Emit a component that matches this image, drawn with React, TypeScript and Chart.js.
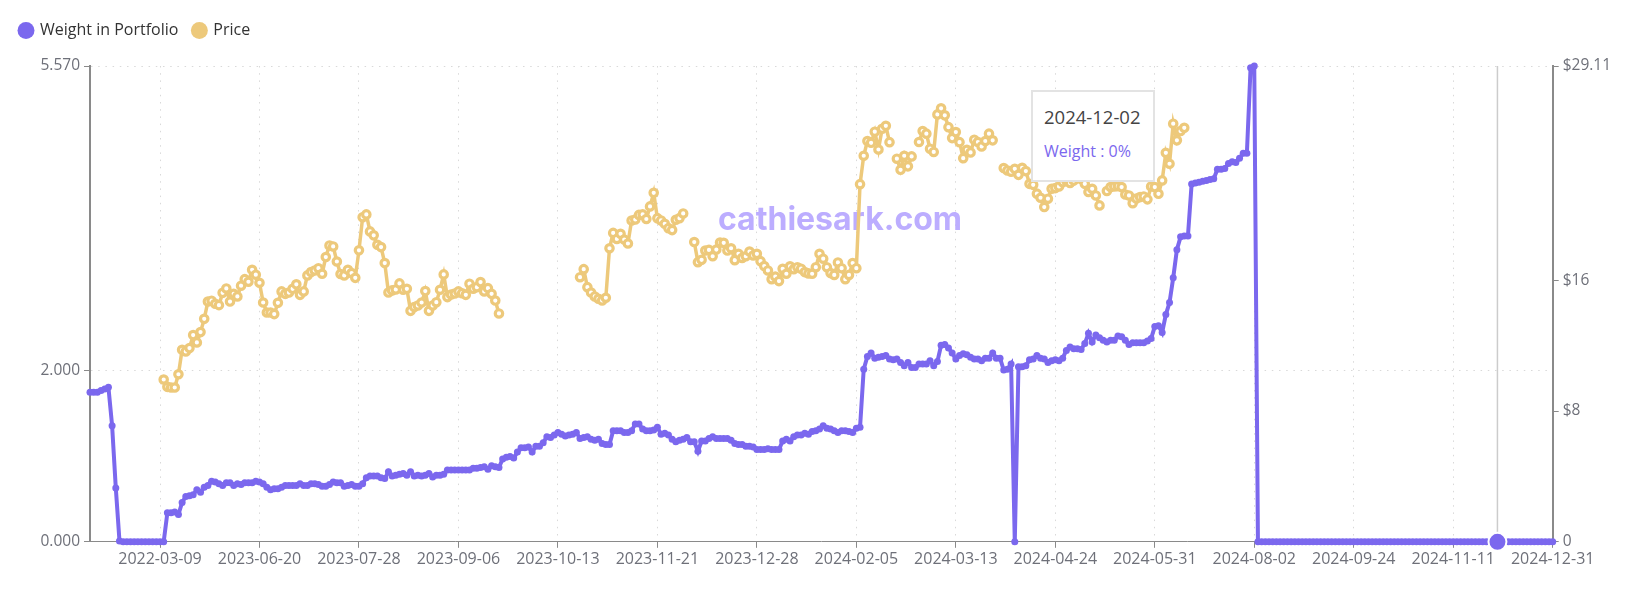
import { useEffect, useRef } from 'react';
import Chart from 'chart.js/auto';

const _ = null;

// Values, ten points per row
const weightValues = [
  1.75, 1.75, 1.75, 1.77, 1.79, 1.81, 1.36, 0.63, 0.01, 0,
  0, 0, 0, 0, 0, 0, 0, 0, 0, 0,
  0, 0.34, 0.34, 0.35, 0.32, 0.46, 0.53, 0.54, 0.55, 0.61,
  0.58, 0.64, 0.66, 0.71, 0.70, 0.68, 0.66, 0.69, 0.69, 0.66,
  0.68, 0.67, 0.69, 0.69, 0.69, 0.71, 0.70, 0.68, 0.64, 0.61,
  0.62, 0.62, 0.64, 0.66, 0.66, 0.66, 0.66, 0.68, 0.66, 0.66,
  0.68, 0.68, 0.67, 0.65, 0.65, 0.67, 0.70, 0.69, 0.69, 0.65,
  0.66, 0.67, 0.65, 0.65, 0.68, 0.75, 0.77, 0.77, 0.77, 0.75,
  0.74, 0.82, 0.77, 0.78, 0.79, 0.80, 0.78, 0.82, 0.77, 0.78,
  0.77, 0.78, 0.80, 0.76, 0.78, 0.78, 0.79, 0.84, 0.84, 0.84,
  0.84, 0.84, 0.84, 0.84, 0.86, 0.86, 0.87, 0.88, 0.85, 0.89,
  0.88, 0.87, 0.97, 0.99, 1.00, 0.98, 1.05, 1.10, 1.10, 1.11,
  1.05, 1.12, 1.12, 1.16, 1.23, 1.22, 1.25, 1.28, 1.26, 1.24,
  1.25, 1.26, 1.28, 1.21, 1.22, 1.23, 1.20, 1.19, 1.20, 1.15,
  1.14, 1.14, 1.30, 1.30, 1.30, 1.28, 1.28, 1.30, 1.38, 1.38,
  1.32, 1.30, 1.30, 1.31, 1.34, 1.26, 1.27, 1.25, 1.20, 1.17,
  1.19, 1.20, 1.22, 1.17, 1.17, 1.06, 1.18, 1.18, 1.21, 1.23,
  1.21, 1.21, 1.21, 1.21, 1.19, 1.15, 1.14, 1.14, 1.12, 1.12,
  1.11, 1.08, 1.08, 1.08, 1.09, 1.08, 1.08, 1.08, 1.18, 1.20,
  1.18, 1.23, 1.25, 1.25, 1.27, 1.26, 1.29, 1.30, 1.32, 1.36,
  1.33, 1.32, 1.30, 1.28, 1.30, 1.30, 1.29, 1.28, 1.33, 1.34,
  2.02, 2.17, 2.21, 2.15, 2.16, 2.17, 2.18, 2.14, 2.13, 2.14,
  2.10, 2.06, 2.10, 2.04, 2.04, 2.08, 2.08, 2.08, 2.12, 2.06,
  2.11, 2.30, 2.31, 2.27, 2.21, 2.14, 2.18, 2.20, 2.19, 2.16,
  2.14, 2.14, 2.12, 2.15, 2.15, 2.21, 2.15, 2.15, 2.01, 2.02,
  2.08, 0, 2.05, 2.05, 2.06, 2.13, 2.14, 2.18, 2.15, 2.14,
  2.10, 2.12, 2.13, 2.12, 2.15, 2.24, 2.28, 2.26, 2.26, 2.25,
  2.32, 2.44, 2.34, 2.42, 2.39, 2.36, 2.34, 2.36, 2.36, 2.41,
  2.40, 2.36, 2.31, 2.33, 2.33, 2.33, 2.33, 2.35, 2.38, 2.52,
  2.53, 2.45, 2.66, 2.80, 3.09, 3.42, 3.57, 3.58, 3.58, 4.19,
  4.20, 4.21, 4.22, 4.23, 4.24, 4.25, 4.36, 4.36, 4.37, 4.43,
  4.45, 4.44, 4.49, 4.55, 4.55, 5.55, 5.57, 0, 0, 0,
  0, 0, 0, 0, 0, 0, 0, 0, 0, 0,
  0, 0, 0, 0, 0, 0, 0, 0, 0, 0,
  0, 0, 0, 0, 0, 0, 0, 0, 0, 0,
  0, 0, 0, 0, 0, 0, 0, 0, 0, 0,
  0, 0, 0, 0, 0, 0, 0, 0, 0, 0,
  0, 0, 0, 0, 0, 0, 0, 0, 0, 0,
  0, 0, 0, 0, 0, 0, 0, 0, 0, 0,
  0, 0, 0, 0, 0, 0, 0, 0,
];

const priceValues = [
  _, _, _, _, _, _, _, _, _, _,
  _, _, _, _, _, _, _, _, _, _,
  9.93, 9.48, 9.44, 9.44, 10.25, 11.75, 11.65, 11.85, 12.65, 12.20,
  12.83, 13.64, 14.70, 14.75, 14.56, 14.48, 15.23, 15.50, 14.70, 15.17,
  15.01, 15.67, 16.07, 15.91, 16.64, 16.34, 15.85, 14.64, 14.03, 14.03,
  13.93, 14.62, 15.32, 15.17, 15.25, 15.48, 15.75, 15.11, 15.32, 16.30,
  16.50, 16.60, 16.74, 16.40, 17.42, 18.13, 18.07, 17.15, 16.38, 16.30,
  16.64, 16.44, 16.15, 17.83, 19.86, 20.03, 18.99, 18.75, 18.17, 18.03,
  17.05, 15.25, 15.38, 15.44, 15.81, 15.42, 15.48, 14.13, 14.36, 14.46,
  14.64, 15.34, 14.13, 14.46, 14.66, 15.42, 16.36, 14.97, 15.13, 15.19,
  15.32, 15.21, 15.11, 15.79, 15.48, 15.58, 15.89, 15.32, 15.52, 15.17,
  14.76, 13.97, _, _, _, _, _, _, _, _,
  _, _, _, _, _, _, _, _, _, _,
  _, _, _, 16.19, 16.68, 15.58, 15.25, 15.01, 14.87, 14.77,
  14.93, 17.96, 18.90, 18.53, 18.84, 18.49, 18.25, 19.66, 19.72, 20.00,
  20.03, 19.75, 20.52, 21.35, 19.80, 19.66, 19.46, 19.19, 19.07, 19.70,
  19.80, 20.09, _, _, 18.34, 17.11, 17.25, 17.82, 17.86, 17.47,
  17.88, 18.31, 18.29, 17.82, 17.96, 17.23, 17.62, 17.37, 17.47, 17.76,
  17.52, 17.62, 17.17, 16.87, 16.60, 16.07, 16.23, 15.95, 16.70, 16.40,
  16.86, 16.68, 16.80, 16.71, 16.50, 16.42, 16.40, 16.80, 17.62, 17.32,
  16.80, 16.44, 16.33, 17.09, 16.74, 16.07, 16.33, 17.05, 16.74, 21.88,
  23.62, 24.52, 24.41, 25.09, 24.00, 25.27, 25.45, 24.45, _, 23.44,
  22.76, 23.62, 22.97, 23.58, _, 24.46, 25.13, 24.97, 24.05, 23.85,
  26.15, 26.52, 26.09, 25.37, 24.70, 25.07, 24.45, 23.47, 23.98, 23.82,
  24.60, 24.46, 24.19, 24.52, 24.97, 24.56, _, _, 22.87, 22.72,
  22.64, 22.82, 22.45, 22.88, 22.68, 21.90, 21.84, 21.30, 21.05, 20.48,
  20.99, 21.60, 21.64, 21.74, 22.00, 22.10, 21.95, 22.10, 22.30, 22.20,
  21.90, 21.40, 21.60, 21.19, 20.58, _, 21.46, 21.70, 21.74, 21.76,
  21.70, 21.25, 21.19, 20.72, 21.00, 21.09, 21.13, 20.95, 21.74, 21.70,
  21.29, 22.11, 23.80, 23.13, 25.58, 24.56, 25.13, 25.33, _, _,
  _, _, _, _, _, _, _, _, _, _,
  _, _, _, _, _, _, _, _, _, _,
  _, _, _, _, _, _, _, _, _, _,
  _, _, _, _, _, _, _, _, _, _,
  _, _, _, _, _, _, _, _, _, _,
  _, _, _, _, _, _, _, _, _, _,
  _, _, _, _, _, _, _, _, _, _,
  _, _, _, _, _, _, _, _, _, _,
  _, _, _, _, _, _, _, _, _, _,
  _, _, _, _, _, _, _, _,
];

const tickLabels = [
  '2022-03-09', '2023-06-20', '2023-07-28', '2023-09-06', '2023-10-13',
  '2023-11-21', '2023-12-28', '2024-02-05', '2024-03-13', '2024-04-24',
  '2024-05-31', '2024-08-02', '2024-09-24', '2024-11-11', '2024-12-31',
];
const firstLabelIndex = 19;
const labelEvery = 27;

const weightTicks = [0, 2, 5.57];
const priceTicks = [0, 8, 16, 29.11];

const hoveredIndex = 382;
const hoveredDate = '2024-12-02';

const PURPLE = '#7b68ee';
const GOLD = '#edc97b';
const AXIS = '#8a8a8a';
const TEXT = '#6e7079';
const FONT = '"Open Sans", sans-serif';

const categories = weightValues.map((_v, i) => {
  const k = (i - firstLabelIndex) / labelEvery;
  return Number.isInteger(k) && k >= 0 ? tickLabels[k] : '';
});

// pushes the plot down below the legend
const legendGap = {
  id: 'legendGap',
  beforeInit(chart: any) {
    const fit = chart.legend.fit;
    chart.legend.fit = function () {
      fit.call(this);
      this.height += 17.5;
    };
  },
};

const watermark = {
  id: 'watermark',
  beforeDatasetsDraw(chart: any) {
    const { ctx } = chart;
    ctx.save();
    ctx.font = 'bold 32px Inter, sans-serif';
    ctx.fillStyle = '#bcadff';
    ctx.textAlign = 'center';
    ctx.textBaseline = 'middle';
    ctx.fillText('cathiesark.com', 840, 220);
    ctx.restore();
  },
};

const crosshair = {
  id: 'crosshair',
  beforeDatasetsDraw(chart: any) {
    const { ctx, chartArea, scales } = chart;
    const x = scales.x.getPixelForValue(hoveredIndex);
    ctx.save();
    ctx.strokeStyle = '#cccccc';
    ctx.lineWidth = 1.5;
    ctx.beginPath();
    ctx.moveTo(x, chartArea.top);
    ctx.lineTo(x, chartArea.bottom);
    ctx.stroke();
    ctx.restore();
  },
};

export default function App() {
  const chartRef = useRef<HTMLCanvasElement>(null);

  useEffect(() => {
    if (!chartRef.current) return;

    const chart = new Chart(chartRef.current, {
      type: 'line',
      data: {
        labels: categories,
        datasets: [
          {
            label: 'Weight in Portfolio',
            data: weightValues,
            yAxisID: 'y',
            borderColor: PURPLE,
            backgroundColor: PURPLE,
            borderWidth: 4,
            pointRadius: 3.5,
            pointBorderWidth: 0,
            pointHoverRadius: 9,
            pointHoverBorderWidth: 2,
            pointHoverBorderColor: '#ffffff',
            pointHoverBackgroundColor: PURPLE,
            clip: false,
          },
          {
            label: 'Price',
            data: priceValues,
            yAxisID: 'y1',
            borderColor: GOLD,
            backgroundColor: GOLD,
            borderWidth: 3.5,
            pointRadius: 3.7,
            pointBorderWidth: 3.2,
            pointBackgroundColor: '#ffffff',
            pointBorderColor: GOLD,
            clip: false,
          },
        ],
      },
      options: {
        responsive: false,
        animation: false,
        events: [],
        layout: { autoPadding: false, padding: { left: 5, top: 7.5 } },
        plugins: {
          tooltip: { enabled: false },
          legend: {
            position: 'top',
            align: 'start',
            labels: {
              usePointStyle: true,
              pointStyle: 'circle',
              boxWidth: 12,
              boxHeight: 12,
              padding: 15,
              color: '#333333',
              font: { family: FONT, size: 16 },
              generateLabels(c: any) {
                return Chart.defaults.plugins.legend.labels.generateLabels(c).map((item: any, i: number) => ({
                  ...item,
                  fillStyle: c.data.datasets[i].borderColor,
                  strokeStyle: c.data.datasets[i].borderColor,
                  lineWidth: 0,
                }));
              },
            },
          },
        },
        scales: {
          x: {
            type: 'category',
            afterFit(scale: any) {
              scale.height = 53.2;
            },
            ticks: {
              autoSkip: false,
              maxRotation: 0,
              padding: 2,
              color: TEXT,
              font: { family: FONT, size: 16 },
              callback(this: any, value: any) {
                return this.getLabelForValue(value) || null;
              },
            },
            grid: {
              color: '#d9d9d9',
              tickLength: 6,
              tickColor: (c: any) => (c.index === firstLabelIndex ? 'transparent' : AXIS),
            },
            border: { display: true, color: AXIS, width: 1, dash: [1.5, 5.7] },
          },
          y: {
            position: 'left',
            min: 0,
            max: 5.57,
            afterFit(scale: any) {
              scale.width = 85;
            },
            afterBuildTicks(scale: any) {
              scale.ticks = weightTicks.map((value) => ({ value }));
            },
            ticks: {
              padding: 4,
              color: TEXT,
              font: { family: FONT, size: 15.5 },
              callback: (value: any) => Number(value).toFixed(3),
            },
            grid: { color: '#d9d9d9', tickLength: 6, tickColor: AXIS },
            border: { display: true, color: AXIS, width: 2, dash: [1.5, 5.7] },
          },
          y1: {
            position: 'right',
            min: 0,
            max: 29.11,
            afterFit(scale: any) {
              scale.width = 89.3;
            },
            afterBuildTicks(scale: any) {
              scale.ticks = priceTicks.map((value) => ({ value }));
            },
            ticks: {
              padding: 4,
              color: TEXT,
              font: { family: FONT, size: 15.5 },
              callback: (value: any) => (value === 0 ? '0' : `$${value}`),
            },
            grid: { drawOnChartArea: false, tickLength: 6, tickColor: AXIS },
            border: { display: true, color: AXIS, width: 2 },
          },
        },
      },
      plugins: [legendGap, watermark, crosshair],
    } as any);

    chart.setActiveElements([{ datasetIndex: 0, index: hoveredIndex }]);
    chart.update();

    return () => {
      chart.destroy();
    };
  }, []);

  return (
    <div style={{ position: 'fixed', left: 0, top: 0, width: 1642, height: 595, background: '#fff' }}>
      <canvas ref={chartRef} width={1642} height={595} style={{ display: 'block' }} />
      <div
        style={{
          position: 'absolute',
          left: 1031,
          top: 89.5,
          width: 124,
          height: 92,
          boxSizing: 'border-box',
          background: '#fff',
          border: '2px solid #e3e3e3',
          paddingLeft: 11,
          fontFamily: FONT,
        }}
      >
        <div style={{ position: 'absolute', top: 13, fontSize: 18.5, lineHeight: '24px', color: '#444', whiteSpace: 'nowrap' }}>
          {hoveredDate}
        </div>
        <div style={{ position: 'absolute', top: 48, fontSize: 16, lineHeight: '22px', color: PURPLE, whiteSpace: 'nowrap' }}>
          Weight : 0%
        </div>
      </div>
    </div>
  );
}
